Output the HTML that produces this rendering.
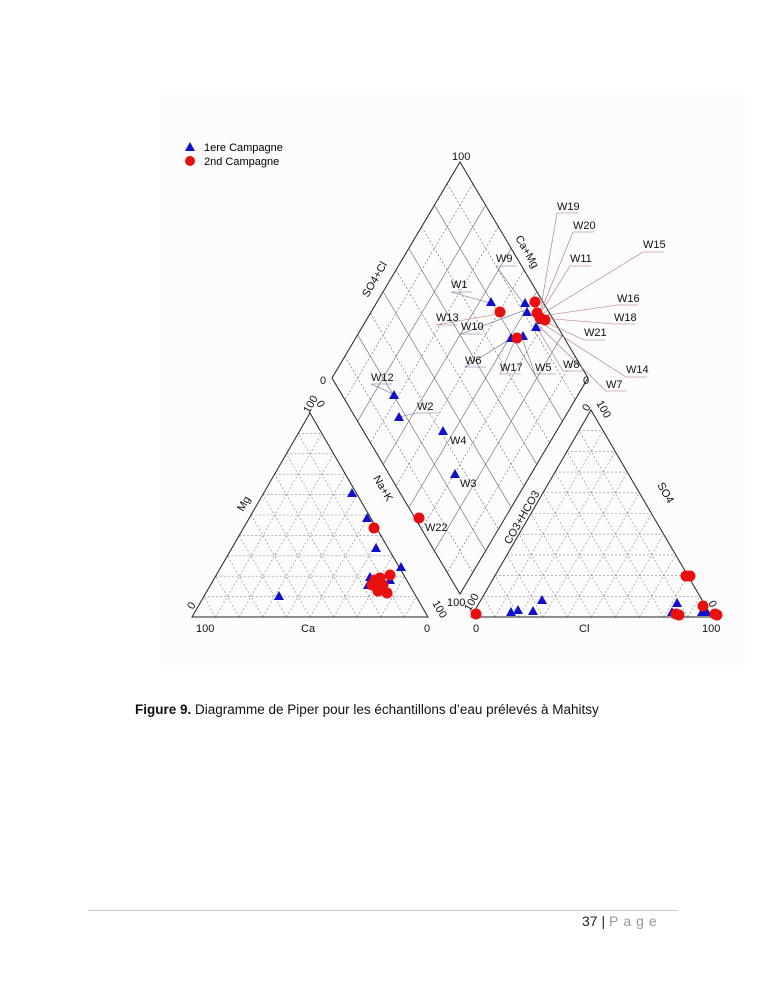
<!DOCTYPE html>
<html><head><meta charset="utf-8"><style>
html,body{margin:0;padding:0;background:#fff;}
body{width:765px;height:990px;position:relative;overflow:hidden;font-family:"Liberation Sans",sans-serif;}
svg{position:absolute;left:0;top:0;}
.cap{position:absolute;left:135px;top:702px;font-size:13.5px;color:#111;white-space:nowrap;}
.foot{position:absolute;left:88px;top:910px;width:590px;border-top:1px solid #ccc;}
.pg{position:absolute;left:582px;top:913px;font-size:14px;color:#222;white-space:nowrap;}
.pg span{color:#999;letter-spacing:5px;}
</style></head><body>
<svg id="s" width="765" height="990" viewBox="0 0 765 990" font-family="Liberation Sans, sans-serif" font-size="11">
<rect x="160" y="95" width="585" height="570" fill="#fcfcfc"/>
<g id="grid"></g>
<g fill="none" stroke="#222" stroke-width="1">
<polygon points="192,617 428,617 310,413"/>
<polygon points="471,617 712,617 591,410"/>
<polygon points="460,162 588,378 460,594 332,378"/>
</g>
<polygon points="190,142 185,151 195,151" fill="#1010cc"/>
<text x="204" y="151" font-size="11">1ere Campagne</text>
<circle cx="190" cy="161" r="5" fill="#e8100f"/>
<text x="204" y="165" font-size="11">2nd Campagne</text>
<g font-size="11" fill="#111">
<text x="452" y="160">100</text>
<text x="320" y="384">0</text>
<text x="583" y="384">0</text>
<text transform="translate(368,298) rotate(-60)">SO4+Cl</text>
<text transform="translate(515,238) rotate(60)">Ca+Mg</text>
<text transform="translate(243,512) rotate(-60)">Mg</text>
<text transform="translate(373,478) rotate(60)">Na+K</text>
<text x="301" y="632">Ca</text>
<text x="196" y="632">100</text>
<text x="424" y="632">0</text>
<text transform="translate(309,414) rotate(-60)">100</text>
<text transform="translate(316,403) rotate(60)">0</text>
<text transform="translate(193,610) rotate(-60)">0</text>
<text transform="translate(432,603) rotate(60)">100</text>
<text transform="translate(510,545) rotate(-60)">CO3+HCO3</text>
<text transform="translate(657,485) rotate(60)">SO4</text>
<text x="579" y="632">Cl</text>
<text x="473" y="632">0</text>
<text x="702" y="632">100</text>
<text x="447" y="606">100</text>
<text transform="translate(470,612) rotate(-60)">100</text>
<text transform="translate(588,412) rotate(-60)">0</text>
<text transform="translate(596,403) rotate(60)">100</text>
<text transform="translate(708,603) rotate(60)">0</text>
</g>
<g stroke="#b07070" stroke-width="0.6" fill="none">
<polyline points="540,313 557,213 578,213"/>
<polyline points="540,313 573,232 594,232"/>
<polyline points="542,314 643,252 664,252"/>
<polyline points="540,314 570,266 591,266"/>
<polyline points="542,316 617,305 638,305"/>
<polyline points="542,318 614,324 635,324"/>
<polyline points="541,320 584,340 605,340"/>
<polyline points="540,322 626,377 647,377"/>
<polyline points="538,325 606,391 627,391"/>
<polyline points="535,324 563,371 584,371"/>
<polyline points="498,314 436,325 457,325"/>
<polyline points="515,340 500,374 521,374"/>
</g>
<g stroke="#7070a0" stroke-width="0.6" fill="none">
<polyline points="490,303 451,292 472,292"/>
<polyline points="523,303 496,266 517,266"/>
<polyline points="525,310 461,334 482,334"/>
<polyline points="512,338 465,367 486,367"/>
<polyline points="522,338 535,374 556,374"/>
<polyline points="393,394 371,384 392,384"/>
<polyline points="399,417 417,413 438,413"/>
</g>
<g font-size="11" fill="#111">
<text x="557" y="210">W19</text><text x="573" y="229">W20</text><text x="643" y="248">W15</text>
<text x="570" y="262">W11</text><text x="496" y="262">W9</text><text x="451" y="288">W1</text>
<text x="617" y="302">W16</text><text x="436" y="321">W13</text><text x="614" y="321">W18</text>
<text x="461" y="330">W10</text><text x="584" y="336">W21</text><text x="465" y="364">W6</text>
<text x="500" y="371">W17</text><text x="535" y="371">W5</text><text x="563" y="368">W8</text>
<text x="626" y="373">W14</text><text x="606" y="388">W7</text><text x="371" y="381">W12</text>
<text x="417" y="410">W2</text><text x="450" y="444">W4</text><text x="460" y="487">W3</text>
<text x="425" y="531">W22</text>
</g>
<g id="pts"></g>
</svg>
<div class="cap"><b>Figure 9.</b> Diagramme de Piper pour les échantillons d’eau prélevés à Mahitsy</div>
<div class="foot"></div>
<div class="pg">37 | <span>Page</span></div>
<script>
var NS="http://www.w3.org/2000/svg",g=document.getElementById("grid"),p=document.getElementById("pts");
function L(a,b,dash,col){var l=document.createElementNS(NS,"line");l.setAttribute("x1",a[0]);l.setAttribute("y1",a[1]);l.setAttribute("x2",b[0]);l.setAttribute("y2",b[1]);l.setAttribute("stroke",col);l.setAttribute("stroke-width","0.6");if(dash)l.setAttribute("stroke-dasharray","2,2");g.appendChild(l);}
function P(a,b,t){return[a[0]+t*(b[0]-a[0]),a[1]+t*(b[1]-a[1])];}
function tri(A,B,C){for(var i=1;i<10;i++){var t=i/10;L(P(A,B,t),P(A,C,t),1,"#888");L(P(B,A,t),P(B,C,t),1,"#888");L(P(C,A,t),P(C,B,t),1,"#888");}}
tri([192,617],[428,617],[310,413]);tri([471,617],[712,617],[591,410]);
var T=[460,162],Lf=[332,378],R=[588,378],Bt=[460,594];
for(var i=1;i<10;i++){var t=i/10;L(P(T,R,t),P(Lf,Bt,t),i%2==0?0:1,"#666");L(P(T,Lf,t),P(R,Bt,t),i%2==0?0:1,"#666");}
var blue=[[352,493],[367,518],[376,548],[401,567],[370,577],[368,585],[378,590],[390,580],[279,596],[511,612],[518,610],[533,611],[542,600],[677,603],[672,612],[702,612],[706,612],[491,302],[525,303],[527,312],[536,327],[542,320],[511,338],[523,336],[394,395],[399,417],[443,431],[455,474]];
var red=[[374,528],[375,580],[383,585],[390,575],[378,591],[387,593],[380,578],[372,585],[476,614],[686,576],[690,576],[676,614],[679,615],[703,606],[715,614],[717,615],[500,312],[535,302],[537,313],[540,318],[545,320],[517,338],[419,518]];
blue.forEach(function(q){var e=document.createElementNS(NS,"polygon");e.setAttribute("points",(q[0])+","+(q[1]-5)+" "+(q[0]-5)+","+(q[1]+4)+" "+(q[0]+5)+","+(q[1]+4));e.setAttribute("fill","#1010cc");p.appendChild(e);});
red.forEach(function(q){var e=document.createElementNS(NS,"circle");e.setAttribute("cx",q[0]);e.setAttribute("cy",q[1]);e.setAttribute("r","5.5");e.setAttribute("fill","#e8100f");p.appendChild(e);});
</script>
</body></html>
